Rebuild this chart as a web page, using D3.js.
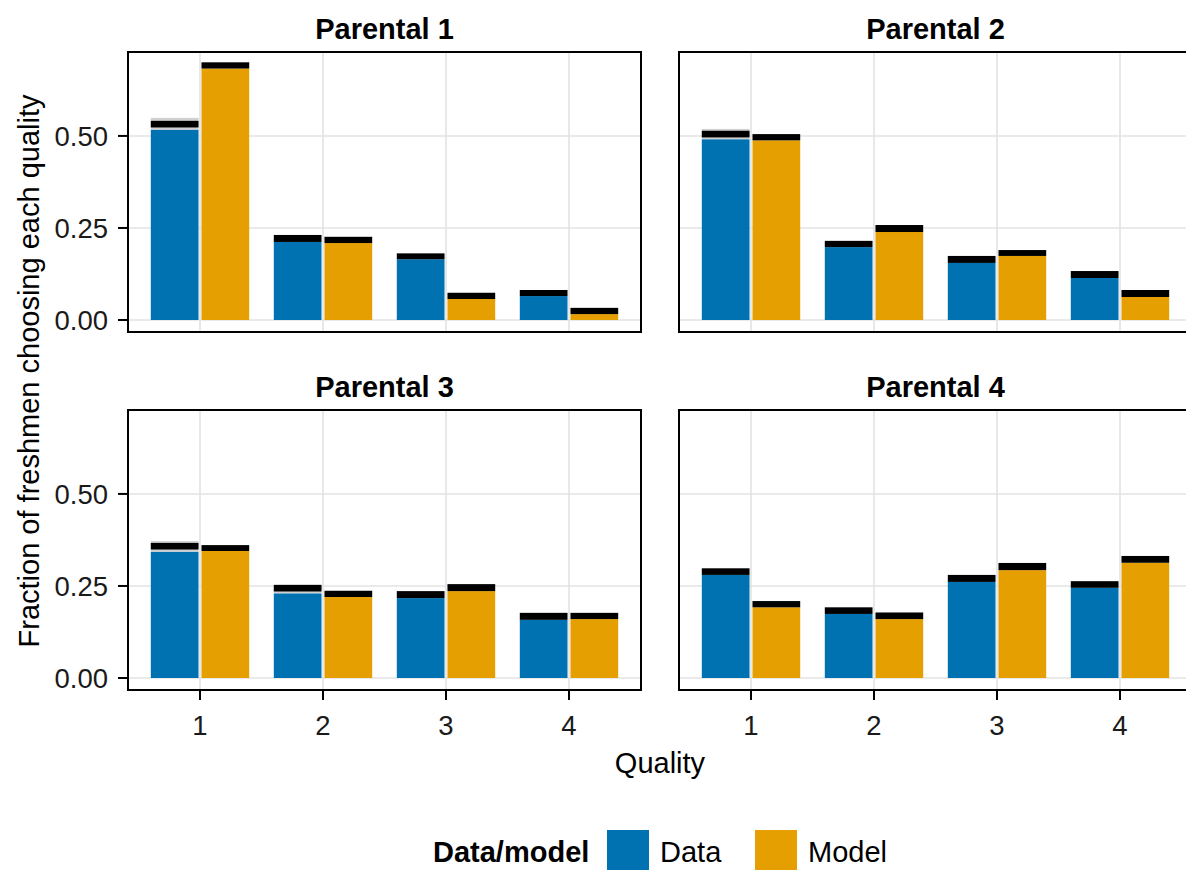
<!DOCTYPE html>
<html>
<head>
<meta charset="utf-8">
<script src="https://cdn.jsdelivr.net/npm/d3@7"></script>
<style>
  html, body { margin: 0; padding: 0; background: #fff; }
  svg { display: block; font-family: "Liberation Sans", Arial, Helvetica, sans-serif; }
</style>
</head>
<body>
<svg id="chart" width="1186" height="870"></svg>
<script>
// ---------------- data ----------------
const panelTitles = ["Parental 1", "Parental 2", "Parental 3", "Parental 4"];
const qualities = [1, 2, 3, 4];
const yTicks = [0, 0.25, 0.5];
const yTickLabels = ["0.00", "0.25", "0.50"];
const seriesNames = ["Data", "Model"];
const legendTitle = "Data/model";

// Data (observed) bar heights
const dataMean = [
  [0.517, 0.212, 0.165, 0.065],
  [0.491, 0.198, 0.155, 0.114],
  [0.343, 0.230, 0.217, 0.158],
  [0.280, 0.174, 0.261, 0.245]
];
// black band on top of Data bars (low, high)
const dataBandLow = [
  [0.523, 0.212, 0.165, 0.065],
  [0.496, 0.198, 0.155, 0.114],
  [0.349, 0.235, 0.217, 0.158],
  [0.280, 0.174, 0.261, 0.245]
];
const dataBandHigh = [
  [0.541, 0.231, 0.181, 0.0815],
  [0.514, 0.215, 0.174, 0.133],
  [0.367, 0.253, 0.236, 0.177],
  [0.298, 0.192, 0.280, 0.263]
];
// light grey haze on Data bars (upper end; null = none)
const dataHazeHigh = [
  [0.549, null, null, null],
  [0.519, null, null, null],
  [0.372, 0.253, null, null],
  [null, null, null, null]
];
// Model bar heights and black band top
const modelMean = [
  [0.683, 0.209, 0.057, 0.016],
  [0.488, 0.239, 0.174, 0.0625],
  [0.345, 0.220, 0.236, 0.160],
  [0.192, 0.160, 0.293, 0.313]
];
const modelHigh = [
  [0.700, 0.226, 0.074, 0.033],
  [0.505, 0.258, 0.190, 0.0815],
  [0.361, 0.237, 0.255, 0.177],
  [0.209, 0.178, 0.3125, 0.3315]
];

// ---------------- layout ----------------
const colors = { Data: "#0072B2", Model: "#E69F00" };
const svg = d3.select("#chart");
const colX = [128, 679];
const rowY = [52, 410];
const pw = 513, ph = 280;
const xDomain = [0.4146, 4.5854];
const yDomain = [-0.0326, 0.728];
const TICKFONT = 27.5;
const FONT = 29;

panelTitles.forEach((title, p) => {
  const col = p % 2, row = Math.floor(p / 2);
  const g = svg.append("g").attr("transform", `translate(${colX[col]},${rowY[row]})`);
  const x = d3.scaleLinear().domain(xDomain).range([0, pw]);
  const y = d3.scaleLinear().domain(yDomain).range([ph, 0]);

  // grid
  g.selectAll(".gy").data(yTicks).enter().append("line")
    .attr("x1", 0).attr("x2", pw)
    .attr("y1", d => y(d)).attr("y2", d => y(d))
    .attr("stroke", "#e3e3e3").attr("stroke-width", 1.6);
  g.selectAll(".gx").data(qualities).enter().append("line")
    .attr("y1", 0).attr("y2", ph)
    .attr("x1", d => x(d)).attr("x2", d => x(d))
    .attr("stroke", "#e3e3e3").attr("stroke-width", 1.6);

  const bars = [];
  qualities.forEach((q, i) => {
    bars.push({ s: "Data", x0: q - 0.4, x1: q - 0.012, mean: dataMean[p][i],
      lo: dataBandLow[p][i], hi: dataBandHigh[p][i], haze: dataHazeHigh[p][i] });
    bars.push({ s: "Model", x0: q + 0.012, x1: q + 0.4, mean: modelMean[p][i],
      lo: modelMean[p][i], hi: modelHigh[p][i], haze: null });
  });

  g.selectAll(".bar").data(bars).enter().append("rect")
    .attr("x", d => x(d.x0)).attr("width", d => x(d.x1) - x(d.x0))
    .attr("y", d => y(d.mean)).attr("height", d => y(0) - y(d.mean))
    .attr("fill", d => colors[d.s]);

  g.selectAll(".haze").data(bars.filter(d => d.haze != null)).enter().append("rect")
    .attr("x", d => x(d.x0)).attr("width", d => x(d.x1) - x(d.x0))
    .attr("y", d => y(d.haze)).attr("height", d => y(d.mean) - y(d.haze))
    .attr("fill", "rgb(200,200,200)").attr("fill-opacity", 0.85);

  g.selectAll(".band").data(bars).enter().append("rect")
    .attr("x", d => x(d.x0)).attr("width", d => x(d.x1) - x(d.x0))
    .attr("y", d => y(d.hi)).attr("height", d => y(d.lo) - y(d.hi))
    .attr("fill", "#000");

  // border
  g.append("rect").attr("x", 0).attr("y", 0).attr("width", pw).attr("height", ph)
    .attr("fill", "none").attr("stroke", "#000").attr("stroke-width", 2);

  // title
  g.append("text").attr("x", pw / 2).attr("y", -13)
    .attr("text-anchor", "middle").attr("font-weight", "bold")
    .attr("font-size", FONT).text(title);

  // y axis (left column)
  if (col === 0) {
    yTicks.forEach((t, i) => {
      g.append("line").attr("x1", -10).attr("x2", 0)
        .attr("y1", y(t)).attr("y2", y(t)).attr("stroke", "#000").attr("stroke-width", 2);
      g.append("text").attr("x", -20).attr("y", y(t)).attr("dy", "0.36em")
        .attr("text-anchor", "end").attr("font-size", TICKFONT).attr("fill", "#1a1a1a")
        .text(yTickLabels[i]);
    });
  }
  // x axis (bottom row)
  if (row === 1) {
    qualities.forEach(q => {
      g.append("line").attr("x1", x(q)).attr("x2", x(q))
        .attr("y1", ph).attr("y2", ph + 10).attr("stroke", "#000").attr("stroke-width", 2);
      g.append("text").attr("x", x(q)).attr("y", ph + 45)
        .attr("text-anchor", "middle").attr("font-size", TICKFONT).attr("fill", "#1a1a1a")
        .text(q);
    });
  }
});

// axis titles
svg.append("text").attr("x", 660).attr("y", 773).attr("text-anchor", "middle")
  .attr("font-size", FONT).text("Quality");
svg.append("text").attr("transform", "translate(39,371) rotate(-90)")
  .attr("text-anchor", "middle").attr("font-size", FONT)
  .text("Fraction of freshmen choosing each quality");

// legend
const lg = svg.append("g");
lg.append("text").attr("x", 433).attr("y", 862).attr("font-weight", "bold")
  .attr("font-size", FONT).text(legendTitle);
const legendX = [607, 755];
seriesNames.forEach((s, i) => {
  lg.append("rect").attr("x", legendX[i]).attr("y", 830).attr("width", 42).attr("height", 42)
    .attr("fill", colors[s]);
  lg.append("text").attr("x", legendX[i] + 53).attr("y", 862)
    .attr("font-size", FONT).text(s);
});
</script>
</body>
</html>
